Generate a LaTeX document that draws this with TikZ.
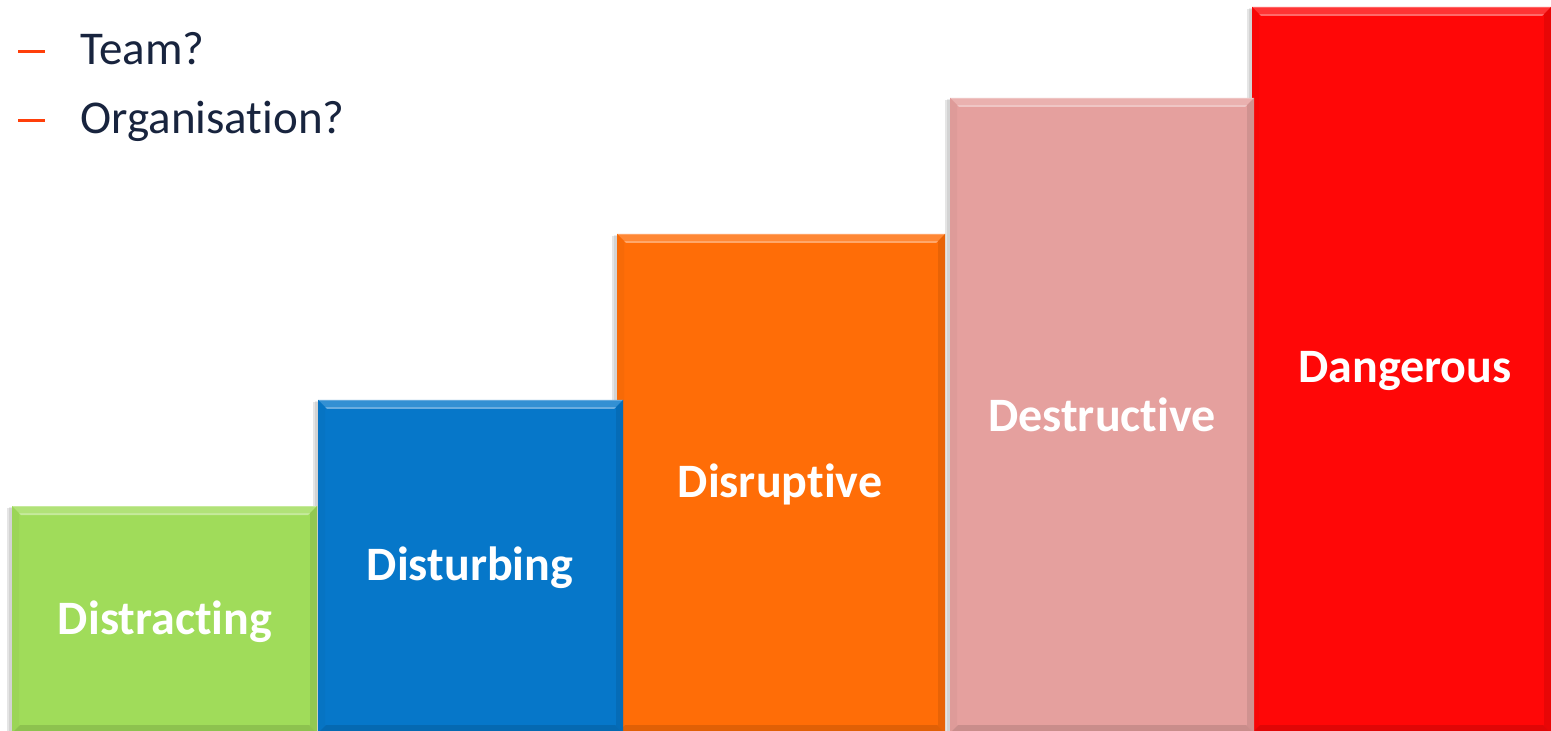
\documentclass[tikz,border=0pt]{standalone}
\usepackage{fontspec}
\setmainfont{Carlito}[Ligatures=NoCommon]
\begin{document}
\definecolor{navy}{HTML}{18243E}
\definecolor{dashred}{HTML}{FF3F0A}
\definecolor{cGreen}{HTML}{A0DC5A}
\definecolor{cBlue}{HTML}{0677C9}
\definecolor{cOrange}{HTML}{FF6D07}
\definecolor{cPink}{HTML}{E5A09E}
\definecolor{cRed}{HTML}{FF0707}
\tikzset{
  bullettext/.style={anchor=base west, text=navy, font=\fontsize{23.5}{27}\selectfont, inner sep=0pt},
  barlabel/.style={text=white, font=\bfseries\fontsize{24}{28}\selectfont, inner sep=0pt},
  bulletdash/.style={draw=dashred, line width=1.5pt},
}
% bevelled bar: #1 name, #2 colour, #3 left, #4 top, #5 right, #6 bottom
\newcommand\bevelbar[6]{%
  \fill[black, opacity=0.10] (#3-5,#4+2) rectangle (#5,#6);
  \fill[black, opacity=0.08] (#3-3,#4+1) rectangle (#5,#6);
  \fill[#2] (#3,#4) rectangle (#5,#6);
  \fill[#2!60!white] (#3,#4) -- (#5,#4) -- (#5-9,#4+9) -- (#3+9,#4+9) -- cycle;
  \fill[#2!82!white] (#3,#4+1) -- (#5,#4+1) -- (#5-7,#4+7) -- (#3+7,#4+7) -- cycle;
  \fill[#2!97!black] (#3,#4) -- (#3+7,#4+7) -- (#3+7,#6-7) -- (#3,#6) -- cycle;
  \fill[#2!91!black] (#5,#4) -- (#5-7,#4+7) -- (#5-7,#6-7) -- (#5,#6) -- cycle;
  \fill[#2!88!black] (#3,#6) -- (#3+8,#6-8) -- (#5-8,#6-8) -- (#5,#6) -- cycle;
  \coordinate (#1) at ({(#3+#5)/2},{(#4+#6)/2});
}
\begin{tikzpicture}[x=0.5pt, y=-0.5pt]
  \useasboundingbox (0,0) rectangle (1551,731);
  \fill[white] (0,0) rectangle (1551,731);

  % bullet list
  \coordinate (d1a) at (18,52);  \coordinate (d1b) at (45,52);
  \coordinate (d2a) at (18,121); \coordinate (d2b) at (45,121);
  \draw[bulletdash] (d1a) -- (d1b);
  \draw[bulletdash] (d2a) -- (d2b);
  \node[bullettext] (team) at (80,65) {Team?};
  \node[bullettext] (org) at (80,134) {Organisation?};

  % bars, drawn from right to left so each lies over its right neighbour
  \bevelbar{dangerous}{cRed}{1252}{7}{1551}{733}
  \bevelbar{destructive}{cPink}{950}{98}{1254}{733}
  \bevelbar{disruptive}{cOrange}{617}{234}{945}{733}
  \bevelbar{disturbing}{cBlue}{318}{400}{623}{733}
  \bevelbar{distracting}{cGreen}{12}{506}{317}{733}

  % labels
  \node[barlabel] (lDistracting) at (165,622) {Distracting};
  \node[barlabel] (lDisturbing) at (470,568) {Disturbing};
  \node[barlabel] (lDisruptive) at (780,484) {Disruptive};
  \node[barlabel] (lDestructive) at (1102,415) {Destructive};
  \node[barlabel] (lDangerous) at (1405,371) {Dangerous};
\end{tikzpicture}
\end{document}
